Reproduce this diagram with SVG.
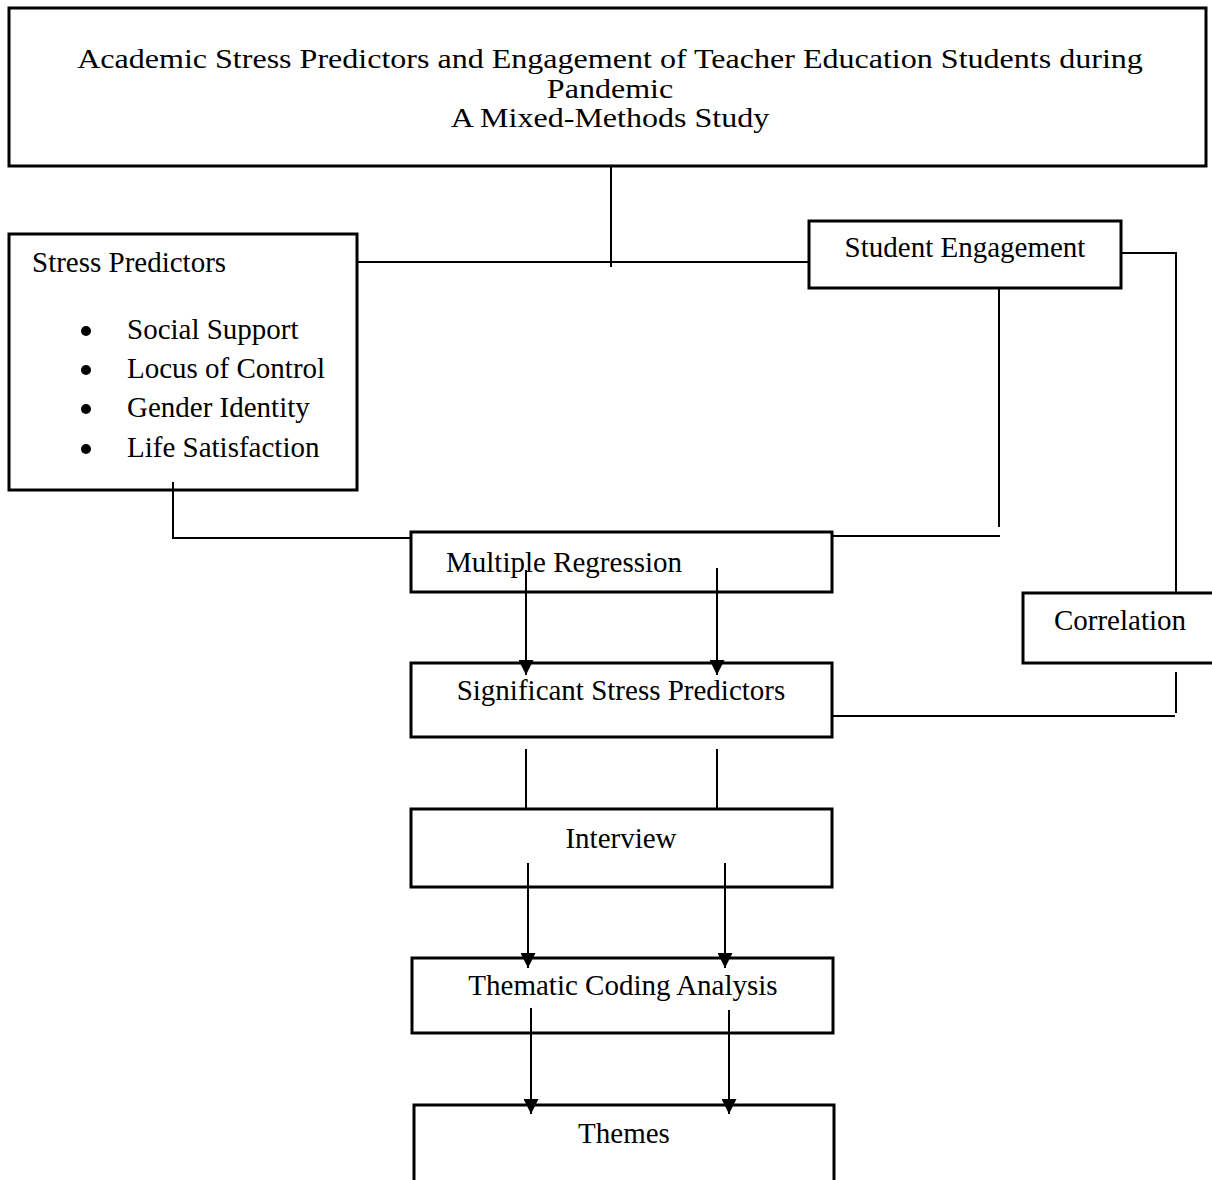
<svg xmlns="http://www.w3.org/2000/svg" width="1212" height="1180" viewBox="0 0 1212 1180">
  <style>
    .box { fill: #ffffff; stroke: #000000; stroke-width: 3; }
    .txt { font-family: "Liberation Serif", "Times New Roman", serif; font-size: 29px; fill: #000000; }
    .ttl { font-size: 28px; }
    .mid { text-anchor: middle; }
    .conn { stroke: #000000; stroke-width: 2; fill: none; }
  </style>
  <defs>
    <marker id="arrow" markerUnits="userSpaceOnUse" markerWidth="15" markerHeight="15" refX="15" refY="7.5" orient="auto">
      <path d="M0,0 L15,7.5 L0,15 z" fill="#000000"/>
    </marker>
  </defs>
  <rect width="1212" height="1180" fill="#ffffff"/>

  <g id="title">
    <rect class="box" x="9" y="8" width="1197" height="158"/>
    <text class="txt ttl mid" transform="translate(610,68) scale(1.145,1)" x="0" y="0">Academic Stress Predictors and Engagement of Teacher Education Students during</text>
    <text class="txt ttl mid" transform="translate(610,98) scale(1.145,1)" x="0" y="0">Pandemic</text>
    <text class="txt ttl mid" transform="translate(610,127) scale(1.145,1)" x="0" y="0">A Mixed-Methods Study</text>
  </g>

  <g id="stress-predictors">
    <rect class="box" x="9" y="234" width="348" height="256"/>
    <text class="txt" x="32" y="272">Stress Predictors</text>
    <circle cx="86" cy="331" r="5"/>
    <circle cx="86" cy="370" r="5"/>
    <circle cx="86" cy="409" r="5"/>
    <circle cx="86" cy="449" r="5"/>
    <text class="txt" x="127" y="339">Social Support</text>
    <text class="txt" x="127" y="378">Locus of Control</text>
    <text class="txt" x="127" y="417">Gender Identity</text>
    <text class="txt" x="127" y="457">Life Satisfaction</text>
  </g>

  <g id="student-engagement">
    <rect class="box" x="809" y="221" width="312" height="67"/>
    <text class="txt mid" x="965" y="257">Student Engagement</text>
  </g>

  <g id="multiple-regression">
    <rect class="box" x="411" y="532" width="421" height="60"/>
    <text class="txt" x="446" y="572">Multiple Regression</text>
  </g>

  <g id="correlation">
    <rect class="box" x="1023" y="593" width="195" height="70"/>
    <text class="txt mid" x="1120" y="630">Correlation</text>
  </g>

  <g id="significant-stress-predictors">
    <rect class="box" x="411" y="663" width="421" height="74"/>
    <text class="txt mid" x="621" y="700">Significant Stress Predictors</text>
  </g>

  <g id="interview">
    <rect class="box" x="411" y="809" width="421" height="78"/>
    <text class="txt mid" x="621" y="848">Interview</text>
  </g>

  <g id="thematic-coding-analysis">
    <rect class="box" x="412" y="958" width="421" height="75"/>
    <text class="txt mid" x="623" y="995">Thematic Coding Analysis</text>
  </g>

  <g id="themes">
    <rect class="box" x="414" y="1105" width="420" height="100"/>
    <text class="txt mid" x="624" y="1143">Themes</text>
  </g>

  <g id="connectors">
    <!-- title to horizontal bar -->
    <line class="conn" x1="611" y1="167" x2="611" y2="267"/>
    <line class="conn" x1="358" y1="262" x2="809" y2="262"/>
    <!-- stress predictors to multiple regression -->
    <polyline class="conn" points="173,482 173,538 410,538"/>
    <!-- student engagement to multiple regression -->
    <line class="conn" x1="999" y1="289" x2="999" y2="527"/>
    <line class="conn" x1="833" y1="536" x2="1000" y2="536"/>
    <!-- student engagement to correlation -->
    <polyline class="conn" points="1122,253 1176,253 1176,592"/>
    <!-- correlation to significant stress predictors -->
    <line class="conn" x1="1176" y1="672" x2="1176" y2="713"/>
    <line class="conn" x1="833" y1="716" x2="1175" y2="716"/>
    <!-- multiple regression to SSP -->
    <line class="conn" x1="526" y1="570" x2="526" y2="675" marker-end="url(#arrow)"/>
    <line class="conn" x1="717" y1="568" x2="717" y2="675" marker-end="url(#arrow)"/>
    <!-- SSP to interview -->
    <line class="conn" x1="526" y1="749" x2="526" y2="808"/>
    <line class="conn" x1="717" y1="749" x2="717" y2="808"/>
    <!-- interview to thematic coding -->
    <line class="conn" x1="528" y1="863" x2="528" y2="968" marker-end="url(#arrow)"/>
    <line class="conn" x1="725" y1="863" x2="725" y2="968" marker-end="url(#arrow)"/>
    <!-- thematic coding to themes -->
    <line class="conn" x1="531" y1="1008" x2="531" y2="1114" marker-end="url(#arrow)"/>
    <line class="conn" x1="729" y1="1010" x2="729" y2="1114" marker-end="url(#arrow)"/>
  </g>
</svg>
